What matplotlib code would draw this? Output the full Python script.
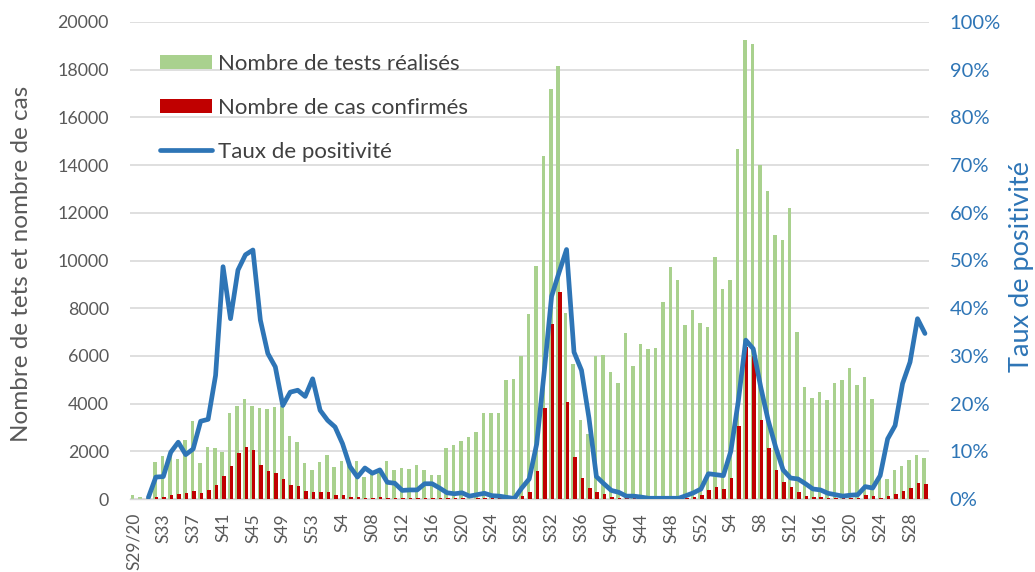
import numpy as np
import matplotlib
matplotlib.use("Agg")
import matplotlib.pyplot as plt
from matplotlib.ticker import MultipleLocator, FuncFormatter

# ---- data (weekly, S29/2020 -> S30/2022) ----
tests = [180, 100, 60, 1540, 1800, 1850, 1670, 2460, 3260, 1520,
         2160, 2150, 1990, 3610, 3920, 4200, 3900, 3830, 3780, 3860,
         3880, 2630, 2370, 1530, 1230, 1560, 1860, 1340, 1580, 1450,
         1590, 930, 1100, 1200, 1600, 1200, 1310, 1260, 1410, 1200,
         995, 1010, 2120, 2270, 2420, 2620, 2800, 3620, 3620, 3610,
         5010, 5050, 6010, 7740, 9780, 14370, 17200, 18170, 7790, 5680,
         3330, 2740, 5980, 6030, 5320, 4880, 6940, 5570, 6490, 6280,
         6350, 8240, 9720, 9190, 7280, 7910, 7400, 7210, 10160, 8790,
         9190, 14680, 19260, 19090, 14010, 12910, 11050, 10840, 12220, 7000,
         4710, 4220, 4490, 4150, 4850, 5010, 5510, 4800, 5120, 4200,
         1000, 830, 1230, 1380, 1620, 1830, 1740]

cases = [0, 0, 0, 70, 85, 180, 210, 240, 350, 250,
         380, 575, 970, 1390, 1910, 2170, 2050, 1440, 1160, 1070,
         855, 590, 535, 320, 310, 280, 280, 185, 170, 100,
         85, 58, 58, 72, 56, 45, 30, 30, 35, 40,
         30, 25, 30, 30, 30, 20, 25, 40, 30, 25,
         20, 15, 130, 310, 1190, 3830, 7340, 8690, 4070, 1760,
         900, 450, 280, 210, 100, 60, 40, 35, 25, 15,
         15, 15, 15, 15, 50, 100, 180, 380, 520, 430,
         890, 3060, 6380, 6010, 3300, 2140, 1220, 700, 520, 280,
         140, 85, 70, 50, 45, 30, 45, 45, 150, 110,
         50, 105, 195, 355, 470, 690, 610]

positivity = [np.nan, np.nan, 0.3, 4.6, 4.7, 9.8, 11.9, 9.3, 10.5, 16.3,
              16.7, 25.9, 48.7, 37.8, 48.0, 51.2, 52.2, 37.5, 30.5, 27.7,
              19.6, 22.4, 22.8, 21.5, 25.2, 18.6, 16.5, 15.1, 11.6, 6.8,
              4.6, 6.5, 5.4, 6.1, 3.5, 3.3, 1.8, 1.9, 1.9, 3.2,
              3.2, 2.3, 1.3, 1.1, 1.3, 0.6, 0.9, 1.2, 0.7, 0.6,
              0.35, 0.1, 2.3, 4.2, 11.5, 26.5, 42.5, 47.5, 52.3, 30.8,
              27.0, 17.0, 4.7, 3.2, 1.8, 1.4, 0.6, 0.6, 0.4, 0.15,
              0.15, 0.15, 0.15, 0.15, 0.7, 1.3, 2.1, 5.3, 5.1, 4.9,
              10.0, 20.5, 33.3, 31.5, 23.5, 16.5, 10.9, 6.1, 4.4, 4.2,
              3.2, 2.1, 1.9, 1.2, 0.9, 0.6, 0.8, 0.9, 2.6, 2.3,
              4.9, 12.6, 15.4, 24.2, 28.7, 37.8, 34.7]

tick_labels = ["S29/20", "S33", "S37", "S41", "S45", "S49", "S53", "S4", "S08",
               "S12", "S16", "S20", "S24", "S28", "S32", "S36", "S40", "S44",
               "S48", "S52", "S4", "S8", "S12", "S16", "S20", "S24", "S28"]

label_tests = "Nombre de tests réalisés"
label_cases = "Nombre de cas confirmés"
label_pos = "Taux de positivité"
label_left = "Nombre de tets et nombre de cas"

# ---- style ----
plt.rcParams['font.family'] = ['Lato', 'DejaVu Sans']
GREEN = '#A9D18E'
RED = '#C00000'
BLUE = '#2E75B6'
GRAY = '#595959'
GRID = '#D9D9D9'

W, H = 1035, 572
fig = plt.figure(figsize=(W / 100, H / 100), dpi=100)
L, R, T, B = 129.7, 928.7, 22, 499
ax = fig.add_axes([L / W, 1 - B / H, (R - L) / W, (B - T) / H])

x = np.arange(len(tests))
bw = 0.47
b1 = ax.bar(x - 0.11, tests, width=bw, color=GREEN, label=label_tests, zorder=2)
b2 = ax.bar(x + 0.11, cases, width=bw, color=RED, label=label_cases, zorder=3)

ax.set_xlim(-0.5, len(tests) - 0.5)
ax.set_ylim(0, 20000)
ax.yaxis.set_major_locator(MultipleLocator(2000))
ax.grid(axis='y', color=GRID, linewidth=1.2)
ax.set_axisbelow(True)
for s in ['top', 'left', 'right']:
    ax.spines[s].set_visible(False)
ax.spines['bottom'].set_color(GRID)
ax.spines['bottom'].set_linewidth(1.0)

ax.set_xticks(x[::4])
ax.set_xticklabels(tick_labels, rotation=90)
ax.tick_params(axis='x', length=0, pad=10, labelsize=12.5, labelcolor=GRAY)
ax.tick_params(axis='y', length=0, pad=15, labelsize=12.8, labelcolor=GRAY)

ax2 = ax.twinx()
ln, = ax2.plot(x, np.array(positivity) / 100.0, color=BLUE, lw=3.4,
               solid_joinstyle='round', solid_capstyle='round', label=label_pos, zorder=4)
ax2.set_ylim(0, 1)
ax2.yaxis.set_major_locator(MultipleLocator(0.1))
ax2.yaxis.set_major_formatter(FuncFormatter(lambda v, p: f"{int(round(v * 100))}%"))
for s in ['top', 'left', 'right', 'bottom']:
    ax2.spines[s].set_visible(False)
ax2.tick_params(axis='y', length=0, pad=15, labelsize=14.5, labelcolor=BLUE)

# axis titles
fig.text(22 / W, 1 - 264 / H, label_left, rotation=90, ha='center', va='center',
         fontsize=17.5, color=GRAY)
fig.text(1022 / W, 1 - 267 / H, label_pos, rotation=90, ha='center', va='center',
         fontsize=19.5, color=BLUE)

fig.legend(handles=[b1, b2, ln], labels=[label_tests, label_cases, label_pos],
           loc='upper left', bbox_to_anchor=(160 / W, 1 - 54 / H),
           frameon=False, fontsize=16, labelcolor='#404040',
           handlelength=2.34, handleheight=0.59, handletextpad=0.27,
           labelspacing=1.07, borderaxespad=0, borderpad=0)

fig.savefig("out.png", dpi=100)
